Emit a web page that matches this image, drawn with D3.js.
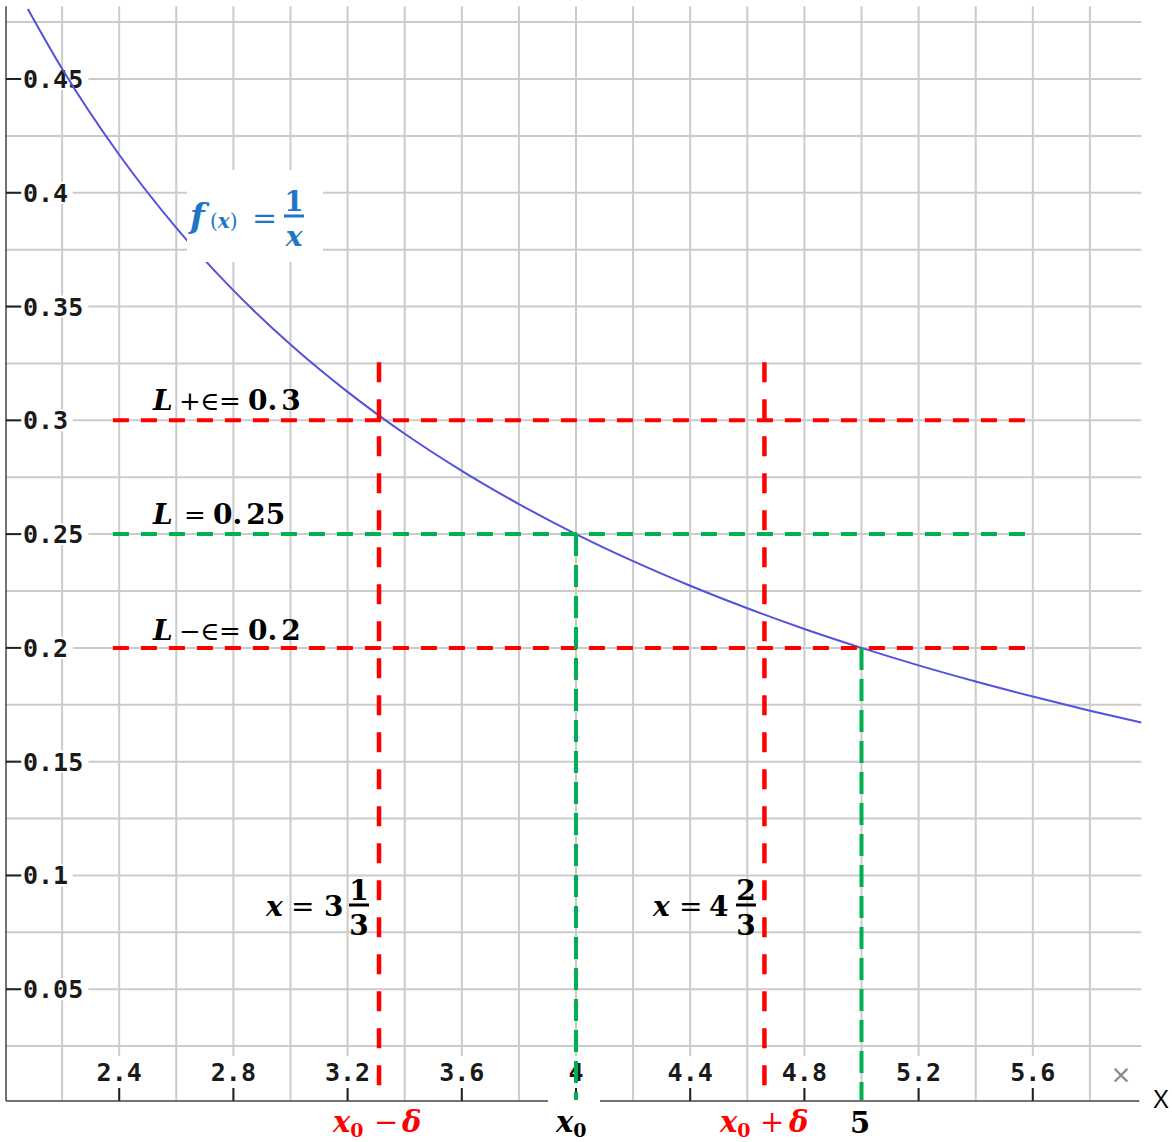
<!DOCTYPE html>
<meta charset="utf-8">
<style>
body { margin: 0; background: #fff; }
svg { display: block; }
.grid line { stroke: #cbcbcb; stroke-width: 2; }
.tick-label { font-family: "DejaVu Sans Mono", monospace; font-weight: bold; font-size: 25px; fill: #1a1a1a; }
.math { font-family: "DejaVu Serif", serif; font-weight: bold; }
</style>
<svg width="1172" height="1142"></svg>
<script src="https://cdn.jsdelivr.net/npm/d3@7"></script>
<script>

// values
var xTicks = [2.4, 2.8, 3.2, 3.6, 4, 4.4, 4.8, 5.2, 5.6],
    xTickText = ["2.4", "2.8", "3.2", "3.6", "4", "4.4", "4.8", "5.2", "5.6"],
    yTicks = [0.05, 0.1, 0.15, 0.2, 0.25, 0.3, 0.35, 0.4, 0.45],
    yTickText = ["0.05", "0.1", "0.15", "0.2", "0.25", "0.3", "0.35", "0.4", "0.45"];

var xGrid = [2.2, 2.4, 2.6, 2.8, 3, 3.2, 3.4, 3.6, 3.8, 4, 4.2, 4.4, 4.6, 4.8, 5, 5.2, 5.4, 5.6, 5.8],
    yGrid = [0.025, 0.05, 0.075, 0.1, 0.125, 0.15, 0.175, 0.2, 0.225, 0.25, 0.275, 0.3,
             0.325, 0.35, 0.375, 0.4, 0.425, 0.45, 0.475];

// f(x) = 1/x, points picked from the curve
var curveX = [2.08, 2.2, 2.4, 2.6, 2.8, 3.0, 3.2, 3.4, 3.6, 3.8, 4.0, 4.2, 4.4, 4.6, 4.8, 5.0, 5.2, 5.4, 5.6, 5.8, 5.98],
    curveY = [0.4808, 0.4545, 0.4167, 0.3846, 0.3571, 0.3333, 0.3125, 0.2941, 0.2778, 0.2632, 0.25,
              0.2381, 0.2273, 0.2174, 0.2083, 0.2, 0.1923, 0.1852, 0.1786, 0.1724, 0.1672];

// epsilon / delta guide lines
var levelY = [0.3, 0.25, 0.2],
    levelColor = ["#ff0000", "#00b050", "#ff0000"],
    levelFrom = 2.378, levelTo = 5.573;
var deltaX = [3.31, 4.66], deltaTop = 0.3255;
var pointX = [4, 5], pointY = [0.25, 0.2];

var svg = d3.select("svg");

var x = d3.scaleLinear().domain([2, 6]).range([5, 1147]),
    y = d3.scaleLinear().domain([0, 0.45]).range([1103, 79]);

var xMax = 5.98, yMax = 0.482;

// grid
var grid = svg.append("g").attr("class", "grid");
grid.selectAll(".v").data(xGrid).enter().append("line")
    .attr("x1", function(d) { return x(d); })
    .attr("x2", function(d) { return x(d); })
    .attr("y1", y(yMax)).attr("y2", 1101);
grid.selectAll(".h").data(yGrid).enter().append("line")
    .attr("x1", x(2)).attr("x2", x(xMax))
    .attr("y1", function(d) { return y(d); })
    .attr("y2", function(d) { return y(d); });

// axes lines
svg.append("line")
    .attr("x1", 6).attr("x2", 6).attr("y1", y(yMax)).attr("y2", 1101)
    .attr("stroke", "#444").attr("stroke-width", 1.5);
svg.append("line")
    .attr("x1", 6).attr("x2", x(xMax) - 2).attr("y1", 1101).attr("y2", 1101)
    .attr("stroke", "#444").attr("stroke-width", 1.5);

// y tick marks + labels
var yt = svg.append("g").selectAll("g").data(yTicks).enter().append("g")
    .attr("transform", function(d) { return "translate(0," + y(d) + ")"; });
yt.append("rect")
    .attr("x", 22).attr("y", -11).attr("width", function(d, i) { return yTickText[i].length * 15.6 + 4; })
    .attr("height", 22).attr("fill", "#fff");
yt.append("line").attr("x1", 6).attr("x2", 21).attr("stroke", "#222").attr("stroke-width", 2);
yt.append("text").attr("class", "tick-label")
    .attr("x", 23).attr("y", 9)
    .text(function(d, i) { return yTickText[i]; });

// x tick marks + labels
var xt = svg.append("g").selectAll("g").data(xTicks).enter().append("g")
    .attr("transform", function(d) { return "translate(" + x(d) + ",0)"; });
xt.append("rect")
    .attr("x", function(d, i) { return -(xTickText[i].length * 15.6) / 2 - 2; })
    .attr("y", 1056).attr("width", function(d, i) { return xTickText[i].length * 15.6 + 4; })
    .attr("height", 32).attr("fill", "#fff");
xt.append("line").attr("y1", 1088).attr("y2", 1101).attr("stroke", "#222").attr("stroke-width", 2);
xt.append("text").attr("class", "tick-label")
    .attr("y", 1081).attr("text-anchor", "middle")
    .text(function(d, i) { return xTickText[i]; });

svg.append("text")
    .attr("x", 1121).attr("y", 1083).attr("text-anchor", "middle")
    .style("font-family", "DejaVu Sans").style("font-size", "25px").style("fill", "#888")
    .text("×");

// curve
var line = d3.line()
    .x(function(d) { return x(d[0]); })
    .y(function(d) { return y(d[1]); })
    .curve(d3.curveMonotoneX);
svg.append("path")
    .datum(curveX.map(function(d, i) { return [d, curveY[i]]; }))
    .attr("fill", "none").attr("stroke", "#5252dc").attr("stroke-width", 2)
    .attr("d", line);

// horizontal guides
svg.append("g").selectAll("line").data(levelY).enter().append("line")
    .attr("x1", x(levelFrom)).attr("x2", x(levelTo))
    .attr("y1", function(d) { return y(d); })
    .attr("y2", function(d) { return y(d); })
    .attr("stroke", function(d, i) { return levelColor[i]; })
    .attr("stroke-width", 4)
    .attr("stroke-dasharray", "16 12");

// delta verticals (red)
svg.append("g").selectAll("line").data(deltaX).enter().append("line")
    .attr("x1", function(d) { return x(d); })
    .attr("x2", function(d) { return x(d); })
    .attr("y1", y(deltaTop)).attr("y2", 1100)
    .attr("stroke", "#ff0000").attr("stroke-width", 4.5)
    .attr("stroke-dasharray", "20 17");

// white box behind x0 label (cuts the axis)
svg.append("rect").attr("x", 548).attr("y", 1099).attr("width", 52).attr("height", 43).attr("fill", "#fff");

// green verticals
svg.append("g").selectAll("line").data(pointX).enter().append("line")
    .attr("x1", function(d) { return x(d); })
    .attr("x2", function(d) { return x(d); })
    .attr("y1", function(d, i) { return y(pointY[i]); }).attr("y2", 1100)
    .attr("stroke", "#00b050").attr("stroke-width", 4)
    .attr("stroke-dasharray", "22 9");

// math text helper
function mtext(px, py, parts, size, color, anchor) {
  var t = svg.append("text").attr("class", "math")
      .attr("x", px).attr("y", py)
      .style("font-size", size + "px").style("fill", color || "#000");
  if (anchor) t.attr("text-anchor", anchor);
  parts.forEach(function(p) {
    var s = t.append("tspan").text(p.t);
    if (p.i) s.style("font-style", "italic");
    if (p.n) s.style("font-weight", "normal");
    if (p.s) s.style("font-size", p.s + "px");
    if (p.dy) s.attr("dy", p.dy);
    if (p.dx) s.attr("dx", p.dx);
    if (p.x) s.attr("x", p.x);
  });
  return t;
}

function frac(cx, top, bottom, barY, size, color, italicBottom) {
  mtext(cx, barY - 5, [{t: top}], size, color, "middle");
  mtext(cx, barY + 30, [{t: bottom, i: italicBottom}], size, color, "middle");
  svg.append("line").attr("x1", cx - 10).attr("x2", cx + 10)
      .attr("y1", barY).attr("y2", barY)
      .attr("stroke", color).attr("stroke-width", 3);
}

// level labels
mtext(153, 410, [{t: "L", i: 1}, {t: "+", n: 1, s: 26, x: 179}, {t: "∈", n: 1, s: 26, x: 200},
                 {t: "=", n: 1, s: 26, x: 219}, {t: "0.", x: 248}, {t: "3", dx: 4}], 28);
mtext(153, 524, [{t: "L", i: 1}, {t: "=", n: 1, s: 26, x: 184}, {t: "0.", x: 213}, {t: "25", dx: 4}], 28);
mtext(153, 640, [{t: "L", i: 1}, {t: "−", n: 1, s: 26, x: 179}, {t: "∈", n: 1, s: 26, x: 200},
                 {t: "=", n: 1, s: 26, x: 219}, {t: "0.", x: 248}, {t: "2", dx: 4}], 28);

// function label
svg.append("rect").attr("x", 187).attr("y", 170).attr("width", 136).attr("height", 92).attr("fill", "#fff");
var blue = "#1f77c4";
mtext(190, 228, [{t: "f", i: 1, s: 34}, {t: "(", n: 1, s: 20, x: 210}, {t: "x", i: 1, s: 20}, {t: ")", n: 1, s: 20},
                 {t: "=", n: 1, s: 30, x: 252}], 30, blue);
frac(294, "1", "x", 216, 28, blue, true);

// x = 3 1/3 and x = 4 2/3
mtext(266, 916, [{t: "x", i: 1}, {t: "=", n: 1, x: 291}, {t: "3", x: 324}], 28);
frac(359, "1", "3", 905, 28, "#000");
mtext(653, 916, [{t: "x", i: 1}, {t: "=", n: 1, x: 679}, {t: "4", x: 709}], 28);
frac(746, "2", "3", 905, 28, "#000");

// bottom labels
mtext(333, 1132, [{t: "x", i: 1}, {t: "0", s: 19, dy: 5}, {t: "−", n: 1, dy: -5, x: 374}, {t: "δ", i: 1, x: 402}], 29, "#ff0000");
mtext(556, 1132, [{t: "x", i: 1}, {t: "0", s: 19, dy: 5}], 29, "#000");
mtext(720, 1132, [{t: "x", i: 1}, {t: "0", s: 19, dy: 5}, {t: "+", n: 1, dy: -5, x: 760}, {t: "δ", i: 1, x: 789}], 29, "#ff0000");
mtext(860, 1133, [{t: "5"}], 29, "#000", "middle");

svg.append("text")
    .attr("x", 1161).attr("y", 1108).attr("text-anchor", "middle")
    .style("font-family", "Open Sans, Liberation Sans, sans-serif").style("font-size", "26px")
    .text("X");

</script>
